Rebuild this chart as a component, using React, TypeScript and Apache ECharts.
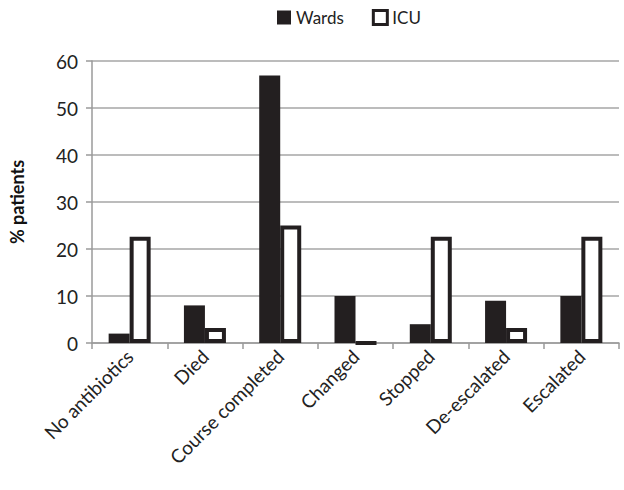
import React, { useEffect, useRef } from "react";
import * as echarts from "echarts";

const categories = ["No antibiotics", "Died", "Course completed", "Changed", "Stopped", "De-escalated", "Escalated"];
const wardsValues = [2, 8, 56.9, 10, 4, 9, 10];
const icuValues = [22.6, 3.2, 25.0, 0, 22.6, 3.2, 22.6];
const yTicks = { min: 0, max: 60, interval: 10 };

const FONT = "Lato, 'Open Sans', sans-serif";

export default function App() {
  const ref = useRef<HTMLDivElement>(null);
  useEffect(() => {
    if (!ref.current) return;
    const chart = echarts.init(ref.current, null, { renderer: "svg" });
    chart.setOption({
      animation: false,
      backgroundColor: "#ffffff",
      textStyle: { fontFamily: FONT },
      legend: {
        top: 4,
        left: 272,
        itemWidth: 14,
        itemHeight: 14,
        itemGap: 28,
        textStyle: { fontSize: 17, color: "#222", fontFamily: FONT },
        data: [
          { name: "Wards", icon: "rect", itemStyle: { color: "#231f20" } },
          { name: "ICU", icon: "rect", itemStyle: { color: "#ffffff", borderColor: "#231f20", borderWidth: 3 } },
        ],
      },
      grid: { left: 91, right: 5, top: 61, bottom: 147, containLabel: false },
      xAxis: {
        type: "category",
        data: categories,
        axisLine: { lineStyle: { color: "#9a9a9a", width: 1.5 } },
        axisTick: { show: true, length: 6, lineStyle: { color: "#9a9a9a", width: 1.5 } },
        axisLabel: { rotate: 45, fontSize: 19, color: "#222", margin: 10, interval: 0, fontFamily: FONT },
      },
      yAxis: {
        type: "value",
        min: yTicks.min,
        max: yTicks.max,
        interval: yTicks.interval,
        name: "% patients",
        nameLocation: "middle",
        nameGap: 66,
        nameRotate: 90,
        nameTextStyle: { fontSize: 18, fontWeight: "bold", color: "#111", fontFamily: FONT },
        axisLine: { show: true, lineStyle: { color: "#9a9a9a", width: 1.5 } },
        axisTick: { show: true, length: 6, lineStyle: { color: "#9a9a9a", width: 1.5 } },
        axisLabel: { fontSize: 19, color: "#222", margin: 14, fontFamily: FONT },
        splitLine: { show: true, lineStyle: { color: "#a6a6a6", width: 1.5 } },
      },
      series: [
        {
          name: "Wards",
          type: "bar",
          data: wardsValues,
          barWidth: 21,
          barGap: "0%",
          itemStyle: { color: "#231f20" },
        },
        {
          name: "ICU",
          type: "bar",
          data: icuValues,
          barWidth: 21,
          itemStyle: { color: "#ffffff", borderColor: "#231f20", borderWidth: 4 },
        },
      ],
    });
    return () => chart.dispose();
  }, []);
  return (
    <div
      ref={ref}
      style={{ position: "fixed", left: 0, top: 0, width: 624, height: 490, background: "#fff" }}
    />
  );
}
